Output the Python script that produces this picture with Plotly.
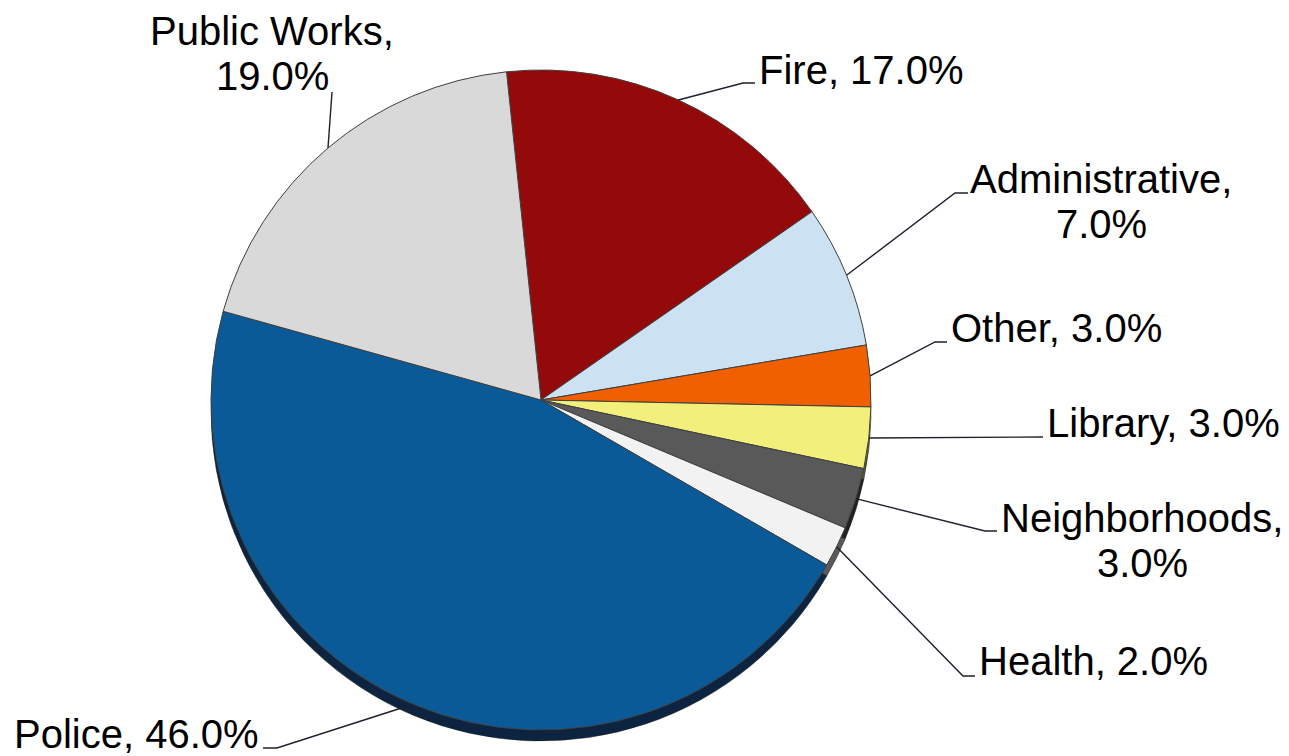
import math
import plotly.graph_objects as go

# ---------------- data ----------------
categories = ["Fire", "Administrative", "Other", "Library",
              "Neighborhoods", "Health", "Police", "Public Works"]
values = [17.0, 7.0, 3.0, 3.0, 3.0, 2.0, 46.0, 19.0]
colors = ["#940A0A", "#CCE2F2", "#F06000", "#F2F07A",
          "#595959", "#F2F2F2", "#0B5A98", "#D9D9D9"]
shadow_colors = ["#3A0404", "#4A5660", "#5A2400", "#5A5A2C",
                 "#222222", "#5A5A5A", "#0C2440", "#505050"]
# which labels break onto two lines (after the comma)
two_line = {"Administrative": True, "Neighborhoods": True, "Public Works": True}

# ---------------- layout constants (window pixels) ----------------
PAGE_OFF = 8                      # default body margin of the html page
W, H = 1289 - PAGE_OFF, 756 - PAGE_OFF
CX, CY, R = 541, 400, 330
ROT = -6            # start angle of the first slice (deg, clockwise from 12 o'clock)
SHADOW_DY = 11
FONT = "Liberation Sans, Arial, sans-serif"
FS = 40
LINE_H = 45
BASE_OFF = 14       # baseline below box centre

# leader elbow / end points and text anchor (x, first-line baseline, align)
label_layout = {
    "Fire":           dict(elbow=(743, 83), end=(755, 83), tx=759, ty=84, align="left"),
    "Administrative": dict(elbow=(955, 193), end=(968, 193), tx=1101, ty=193, align="center"),
    "Other":          dict(elbow=(935, 342), end=(947, 342), tx=951, ty=342, align="left"),
    "Library":        dict(elbow=None, end=(1043, 437), tx=1047, ty=437, align="left"),
    "Neighborhoods":  dict(elbow=(985, 531), end=(997, 531), tx=1142, ty=532, align="center"),
    "Health":         dict(elbow=(963, 676), end=(975, 676), tx=979, ty=675, align="left"),
    "Police":         dict(elbow=(277, 748), end=(263, 748), tx=259, ty=748, align="right"),
    "Public Works":   dict(elbow=None, end=(332, 92), tx=272, ty=45, align="center"),
}


def px(x):
    return (x - PAGE_OFF) / W


def py(y):
    return 1 - (y - PAGE_OFF) / H


def domain(cy):
    return dict(x=[px(CX - R), px(CX + R)], y=[py(cy + R), py(cy - R)])


fig = go.Figure()

# shadow (3-D rim) behind the pie
fig.add_trace(go.Pie(
    labels=categories, values=values, sort=False, direction="clockwise",
    rotation=ROT, textinfo="none", hoverinfo="skip",
    marker=dict(colors=shadow_colors, line=dict(color="#1a1a1a", width=0.5)),
    domain=domain(CY + SHADOW_DY), showlegend=False,
))

# main pie
fig.add_trace(go.Pie(
    labels=categories, values=values, sort=False, direction="clockwise",
    rotation=ROT, textinfo="none",
    marker=dict(colors=colors, line=dict(color="#404040", width=1)),
    domain=domain(CY), showlegend=False,
))

# leader lines + labels computed from the data
total = sum(values)
cum = 0.0
shapes = []
annotations = []
for name, v in zip(categories, values):
    mid = ROT + (cum + v / 2) / total * 360
    cum += v
    a = math.radians(mid)
    sx = CX + R * math.sin(a)
    sy = CY - R * math.cos(a)
    lay = label_layout[name]
    pts = [(sx, sy)]
    if lay["elbow"] is not None:
        pts.append(lay["elbow"])
    pts.append(lay["end"])
    path = "M " + " L ".join(f"{px(x)},{py(y)}" for x, y in pts)
    shapes.append(dict(type="path", xref="paper", yref="paper", path=path,
                       line=dict(color="#1F1F2F", width=1.4)))

    if two_line.get(name):
        lines = [f"{name},", f"{v:.1f}%"]
    else:
        lines = [f"{name}, {v:.1f}%"]
    for i, ln in enumerate(lines):
        base = lay["ty"] + i * LINE_H
        annotations.append(dict(
            x=px(lay["tx"]), y=py(base - BASE_OFF), xref="paper", yref="paper",
            text=ln, showarrow=False, xanchor=lay["align"], yanchor="middle",
            borderpad=0, borderwidth=0,
            font=dict(family=FONT, size=FS, color="#000000"),
        ))

fig.update_layout(
    width=W, height=H,
    margin=dict(l=0, r=0, t=0, b=0),
    paper_bgcolor="white", plot_bgcolor="white",
    shapes=shapes, annotations=annotations,
    showlegend=False,
)

fig.write_html("out.html")
